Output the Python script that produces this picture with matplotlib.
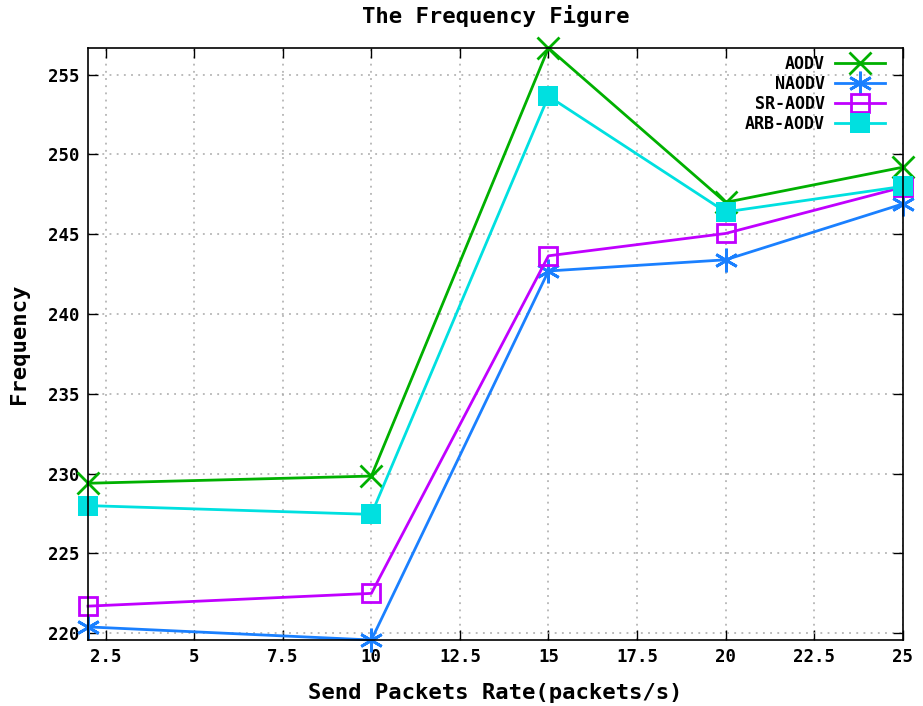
import numpy as np
import matplotlib.pyplot as plt

# send packet rate (packets/s)
rates = [2, 10, 15, 20, 25]

aodv = [229.4, 229.85, 256.67, 247.0, 249.2]
naodv = [220.4, 219.58, 242.7, 243.4, 246.9]
sr_aodv = [221.7, 222.5, 243.65, 245.05, 247.95]
arb_aodv = [228.0, 227.45, 253.65, 246.4, 248.0]

x_ticks = [2.5, 5, 7.5, 10, 12.5, 15, 17.5, 20, 22.5, 25]
x_tick_labels = ['2.5', '5', '7.5', '10', '12.5', '15', '17.5', '20', '22.5', '25']
y_ticks = [220, 225, 230, 235, 240, 245, 250, 255]

font = 'DejaVu Sans Mono'

fig = plt.figure(figsize=(9.23, 7.06), dpi=100)
ax = fig.add_axes([0.0953, 0.0935, 0.8827, 0.8385])

ax.plot(rates, aodv, color='#00b000', lw=2, marker='x', ms=16, mew=2, label='AODV')
ax.plot(rates, naodv, color='#1a80ff', lw=2, marker=(6, 2, 0), ms=17, mew=2, label='NAODV')
ax.plot(rates, sr_aodv, color='#c000ff', lw=2, marker='s', ms=13, mew=2,
        fillstyle='none', label='SR-AODV')
ax.plot(rates, arb_aodv, color='#00e0e0', lw=2, marker='s', ms=14, mew=0, label='ARB-AODV')

for line in ax.get_lines():
    line.set_clip_on(False)

ax.set_xlim(2, 25)
ax.set_ylim(219.58, 256.67)
ax.set_xticks(x_ticks)
ax.set_xticklabels(x_tick_labels)
ax.set_yticks(y_ticks)

ax.grid(True, color='#a8a8a8', linestyle=(0, (1.2, 3.5)), lw=1.1)
ax.tick_params(direction='in', length=7, width=1, top=True, right=True,
               labeltop=False, labelright=False, pad=6)
for lab in ax.get_xticklabels() + ax.get_yticklabels():
    lab.set_fontfamily(font)
    lab.set_fontweight('bold')
    lab.set_fontsize(12.5)
for sp in ax.spines.values():
    sp.set_linewidth(1.2)

ax.set_title('The Frequency Figure', fontfamily=font, fontweight='bold', fontsize=16, pad=18)
ax.set_xlabel('Send Packets Rate(packets/s)', fontfamily=font, fontweight='bold', fontsize=16, labelpad=12)
ax.set_ylabel('Frequency', fontfamily=font, fontweight='bold', fontsize=16, labelpad=14)

leg = ax.legend(loc='upper right', bbox_to_anchor=(0.99, 1.005), frameon=False, markerfirst=False,
                prop={'family': font, 'weight': 'bold', 'size': 12},
                handlelength=3, labelspacing=0.12, borderaxespad=0.2, handletextpad=0.6)

fig.savefig('out.png', dpi=100)
